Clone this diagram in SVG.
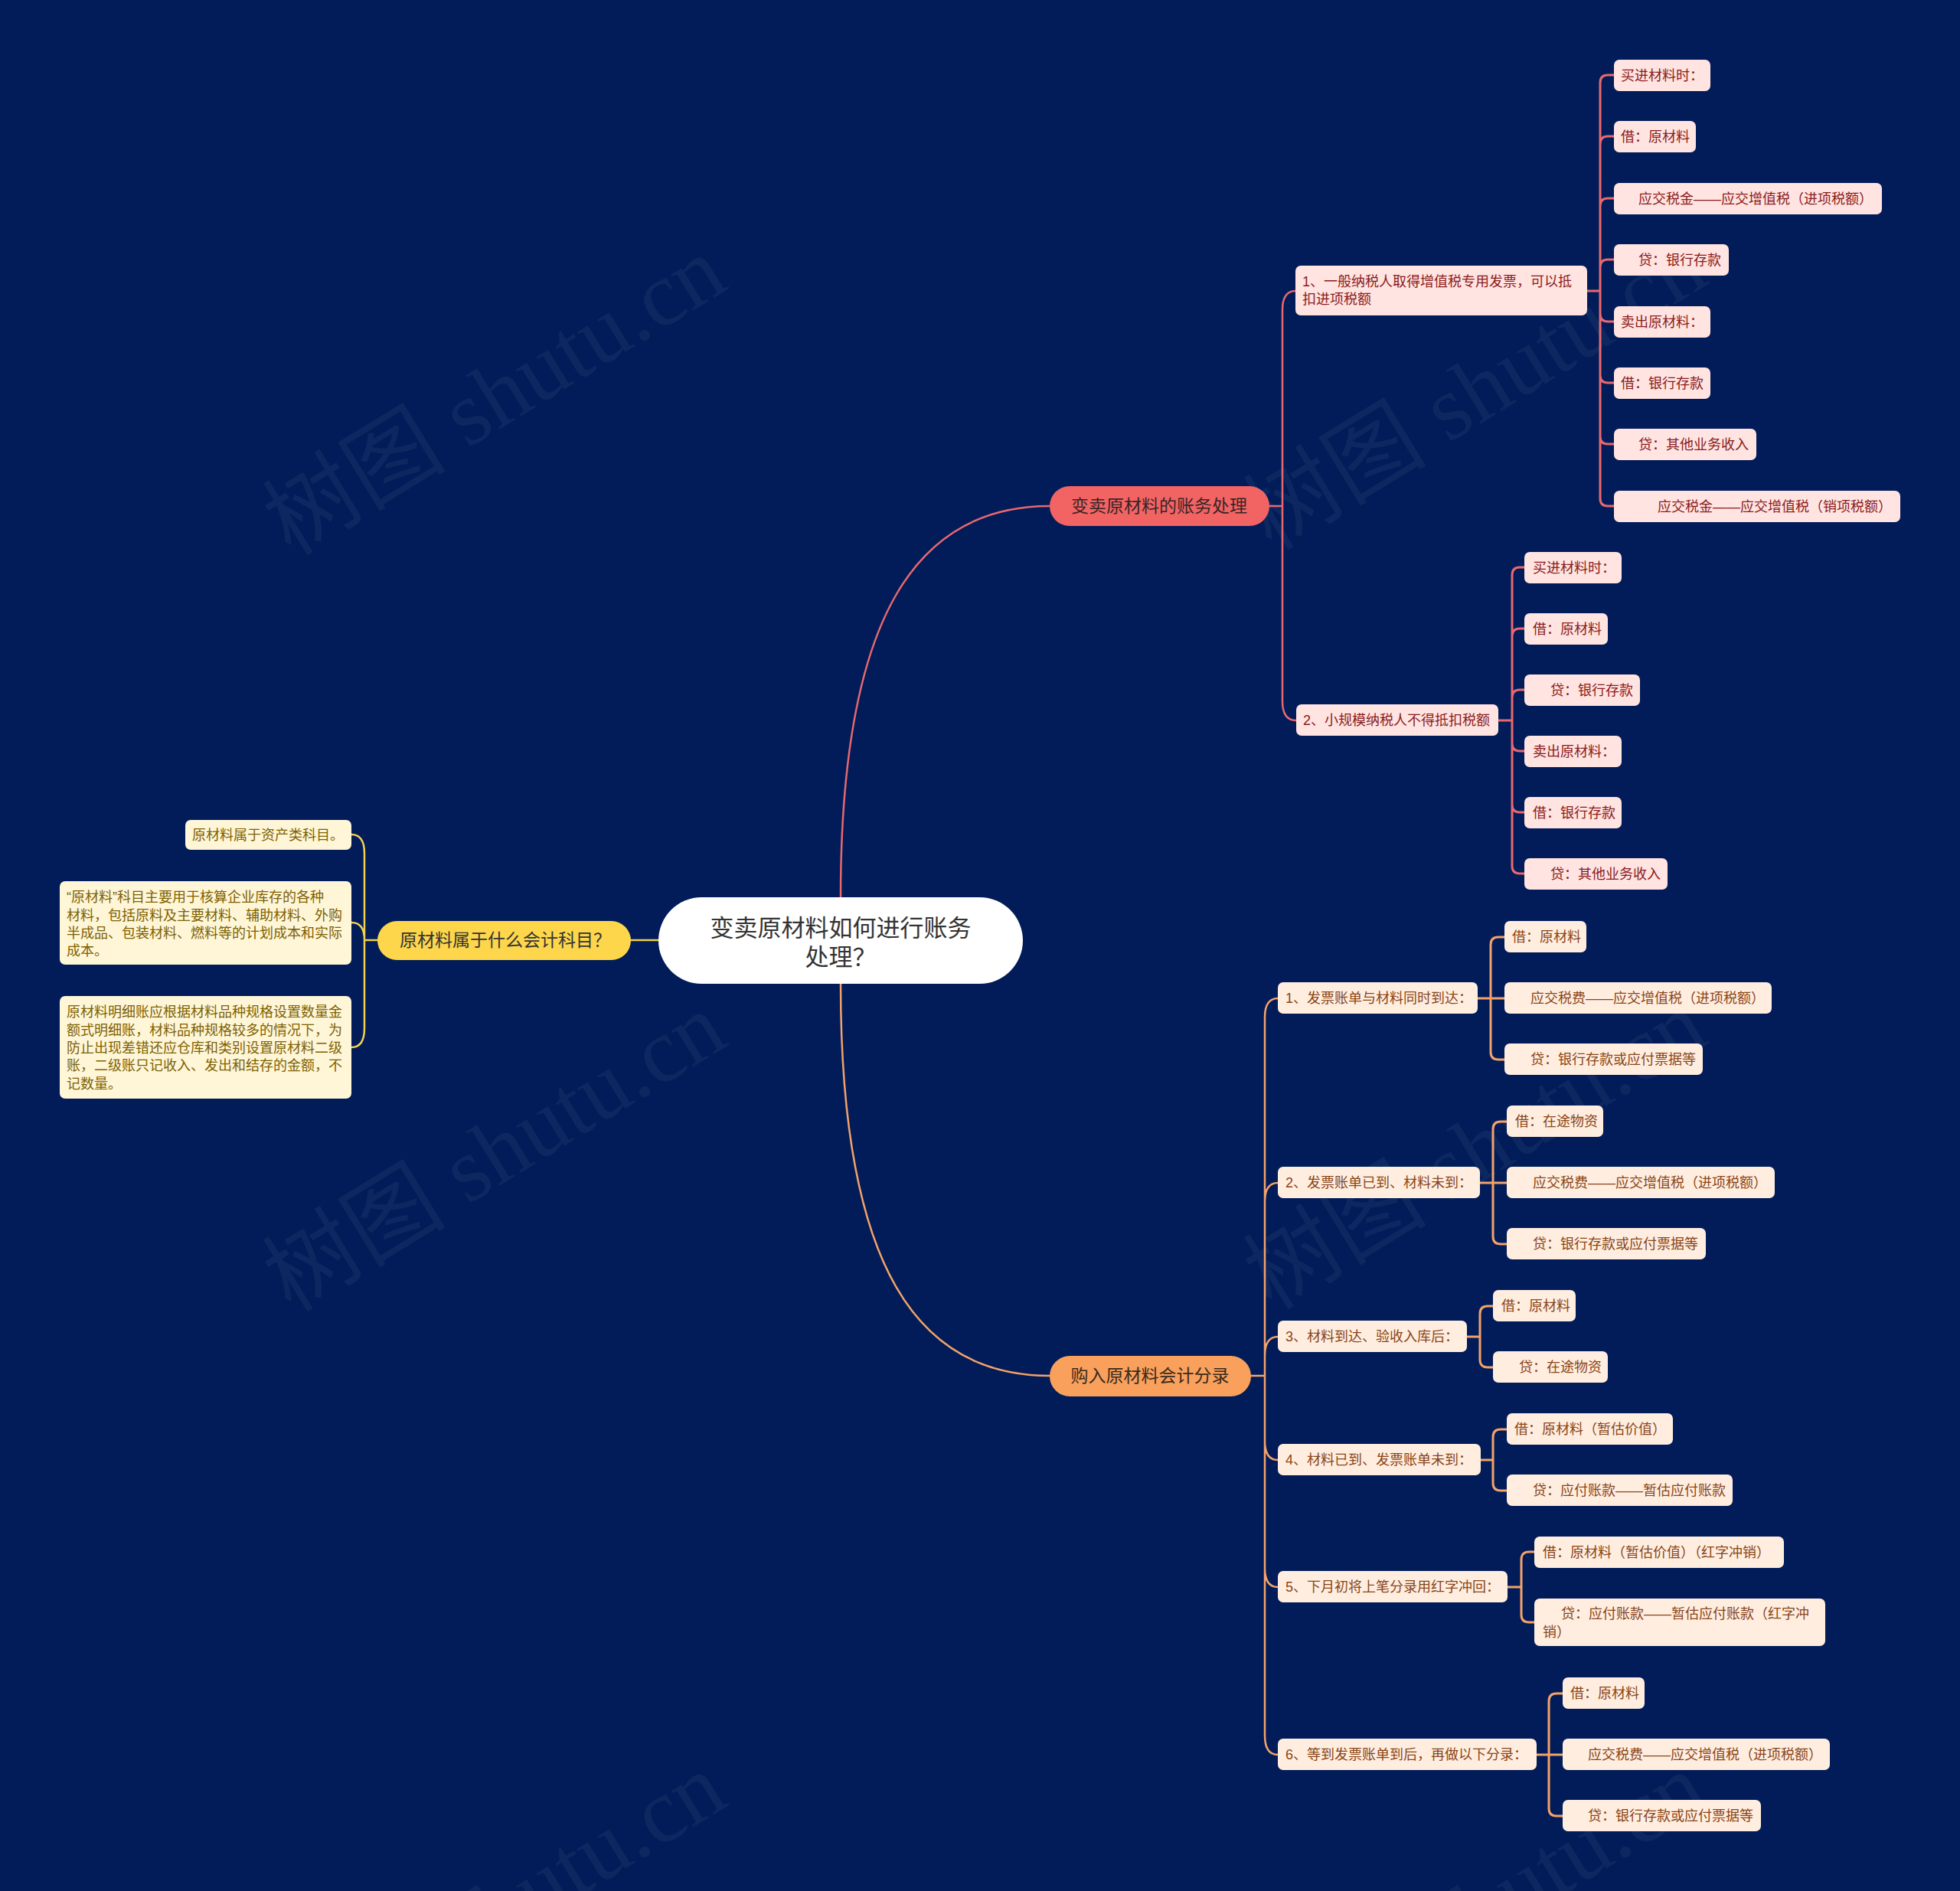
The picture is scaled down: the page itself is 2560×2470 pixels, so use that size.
<svg xmlns="http://www.w3.org/2000/svg" width="2560" height="2470" viewBox="0 0 2560 2470">
<style>
text{font-family:"Liberation Sans","Noto Sans CJK SC",sans-serif}
.wm{font-family:"Liberation Serif","Noto Sans CJK SC",serif;font-size:120px;fill:#ffffff;fill-opacity:0.05}
.c{fill:none;stroke-width:2.5;stroke-linecap:round}
.cr{stroke:#E8686F}
.co{stroke:#F4A26A}
.cy{stroke:#F3D04E}
.e{stroke-width:3}
.pl{fill:#FFE4E1}
.ptx{fill:#8B1A1A;font-size:18px}
.ol{fill:#FFEEE0}
.otx{fill:#8A4416;font-size:18px}
.yl{fill:#FFF6D8}
.ytx{fill:#7D6100;font-size:18px}
.mtx{font-size:23px;text-anchor:middle}
</style>
<rect width="2560" height="2470" fill="#011C58"/>
<g id="watermarks">
<text class="wm" transform="translate(646,517) rotate(-31.5)" text-anchor="middle" dominant-baseline="central">树图 shutu.cn</text>
<text class="wm" transform="translate(1927,510) rotate(-31.5)" text-anchor="middle" dominant-baseline="central">树图 shutu.cn</text>
<text class="wm" transform="translate(646,1505) rotate(-31.5)" text-anchor="middle" dominant-baseline="central">树图 shutu.cn</text>
<text class="wm" transform="translate(1927,1502) rotate(-31.5)" text-anchor="middle" dominant-baseline="central">树图 shutu.cn</text>
<text class="wm" transform="translate(646,2498) rotate(-31.5)" text-anchor="middle" dominant-baseline="central">树图 shutu.cn</text>
<text class="wm" transform="translate(1927,2498) rotate(-31.5)" text-anchor="middle" dominant-baseline="central">树图 shutu.cn</text>
</g>
<g id="connectors">
<path class="c cr" d="M1098 1172 C1098 800 1200 661 1371 661"/>
<path class="c co" d="M1098 1285 C1098 1658 1200 1797 1371 1797"/>
<path class="c cy" d="M860 1228 H824"/>
<path class="c cr" d="M1658 661 H1675 M1675 661 V405 Q1675 380 1692 380 M1675 661 V916 Q1675 941 1693 941"/>
<path class="c cr e" d="M2073 380 H2090 M2090 380 V108 Q2090 98 2100 98 H2108 M2090 380 V188 Q2090 178 2100 178 H2108 M2090 380 V269 Q2090 259 2100 259 H2108 M2090 380 V349 Q2090 339 2100 339 H2108 M2090 380 V410 Q2090 420 2100 420 H2108 M2090 380 V490 Q2090 500 2100 500 H2108 M2090 380 V570 Q2090 580 2100 580 H2108 M2090 380 V651 Q2090 661 2100 661 H2108"/>
<path class="c cr e" d="M1957 941 H1975 M1975 941 V751 Q1975 741 1985 741 H1991 M1975 941 V831 Q1975 821 1985 821 H1991 M1975 941 V911 Q1975 901 1985 901 H1991 M1975 941 V971 Q1975 981 1985 981 H1991 M1975 941 V1051 Q1975 1061 1985 1061 H1991 M1975 941 V1131 Q1975 1141 1985 1141 H1991"/>
<path class="c co" d="M1634 1797 H1652 M1652 1797 V1329 Q1652 1304 1669 1304 M1652 1797 V1570 Q1652 1545 1669 1545 M1652 1797 V1771 Q1652 1746 1669 1746 M1652 1797 V1882 Q1652 1907 1669 1907 M1652 1797 V2048 Q1652 2073 1669 2073 M1652 1797 V2267 Q1652 2292 1669 2292"/>
<path class="c co e" d="M1930 1304 H1947 M1947 1304 V1234 Q1947 1224 1957 1224 H1965 M1947 1304 H1965 M1947 1304 V1374 Q1947 1384 1957 1384 H1965"/>
<path class="c co e" d="M1933 1545 H1950 M1950 1545 V1475 Q1950 1465 1960 1465 H1968 M1950 1545 H1968 M1950 1545 V1615 Q1950 1625 1960 1625 H1968"/>
<path class="c co e" d="M1916 1746 H1933 M1933 1746 V1716 Q1933 1706 1943 1706 H1950 M1933 1746 V1776 Q1933 1786 1943 1786 H1950"/>
<path class="c co e" d="M1934 1907 H1950 M1950 1907 V1877 Q1950 1867 1960 1867 H1968 M1950 1907 V1937 Q1950 1947 1960 1947 H1968"/>
<path class="c co e" d="M1969 2073 H1987 M1987 2073 V2037 Q1987 2027 1997 2027 H2004 M1987 2073 V2109 Q1987 2119 1997 2119 H2004"/>
<path class="c co e" d="M2007 2292 H2023 M2023 2292 V2222 Q2023 2212 2033 2212 H2041 M2023 2292 H2041 M2023 2292 V2362 Q2023 2372 2033 2372 H2041"/>
<path class="c cy" d="M493 1228 H476 M476 1228 V1115 Q476 1090 459 1090 M476 1228 Q476 1205 459 1205 M476 1228 V1343 Q476 1368 459 1368"/>
</g>
<g id="root">
<rect x="860" y="1172" width="476" height="113" rx="56.5" fill="#FFFFFF"/>
<text x="1098" y="1223" font-size="31" fill="#333333" text-anchor="middle">变卖原材料如何进行账务</text>
<text x="1098" y="1261" font-size="31" fill="#333333" text-anchor="middle">处理？</text>
</g>
<g id="b1">
<rect x="1371" y="635" width="287" height="52" rx="26" fill="#F26464"/>
<text class="mtx" x="1514" y="669" fill="#3A2424">变卖原材料的账务处理</text>
</g>
<g id="b2">
<rect x="1371" y="1771" width="263" height="53" rx="26.5" fill="#F9A05C"/>
<text class="mtx" x="1502" y="1805" fill="#3A2A1C">购入原材料会计分录</text>
</g>
<g id="b3">
<rect x="493" y="1203" width="331" height="51" rx="25.5" fill="#FDD64C"/>
<text class="mtx" x="660" y="1236" fill="#333333">原材料属于什么会计科目？</text>
</g>
<g id="b1c1"><rect class="pl" x="1692" y="347" width="381" height="65" rx="7"/><text class="ptx" x="1701" y="374">1、一般纳税人取得增值税专用发票，可以抵</text><text class="ptx" x="1701" y="397">扣进项税额</text></g>
<g id="b1c2"><rect class="pl" x="1693" y="920" width="264" height="41" rx="7"/><text class="ptx" x="1702" y="947">2、小规模纳税人不得抵扣税额</text></g>
<g id="b1c1g1"><rect class="pl" x="2108" y="78" width="126" height="41" rx="7"/><text class="ptx" x="2117" y="105">买进材料时：</text></g>
<g id="b1c1g2"><rect class="pl" x="2108" y="158" width="107" height="41" rx="7"/><text class="ptx" x="2117" y="185">借：原材料</text></g>
<g id="b1c1g3"><rect class="pl" x="2108" y="239" width="350" height="41" rx="7"/><text class="ptx" x="2140" y="266">应交税金——应交增值税（进项税额）</text></g>
<g id="b1c1g4"><rect class="pl" x="2108" y="319" width="150" height="41" rx="7"/><text class="ptx" x="2140" y="346">贷：银行存款</text></g>
<g id="b1c1g5"><rect class="pl" x="2108" y="400" width="126" height="41" rx="7"/><text class="ptx" x="2117" y="427">卖出原材料：</text></g>
<g id="b1c1g6"><rect class="pl" x="2108" y="480" width="126" height="41" rx="7"/><text class="ptx" x="2117" y="507">借：银行存款</text></g>
<g id="b1c1g7"><rect class="pl" x="2108" y="560" width="186" height="41" rx="7"/><text class="ptx" x="2140" y="587">贷：其他业务收入</text></g>
<g id="b1c1g8"><rect class="pl" x="2108" y="641" width="374" height="41" rx="7"/><text class="ptx" x="2165" y="668">应交税金——应交增值税（销项税额）</text></g>
<g id="b1c2g1"><rect class="pl" x="1991" y="721" width="127" height="41" rx="7"/><text class="ptx" x="2002" y="748">买进材料时：</text></g>
<g id="b1c2g2"><rect class="pl" x="1991" y="801" width="109" height="41" rx="7"/><text class="ptx" x="2002" y="828">借：原材料</text></g>
<g id="b1c2g3"><rect class="pl" x="1991" y="881" width="151" height="41" rx="7"/><text class="ptx" x="2025" y="908">贷：银行存款</text></g>
<g id="b1c2g4"><rect class="pl" x="1991" y="961" width="127" height="41" rx="7"/><text class="ptx" x="2002" y="988">卖出原材料：</text></g>
<g id="b1c2g5"><rect class="pl" x="1991" y="1041" width="127" height="41" rx="7"/><text class="ptx" x="2002" y="1068">借：银行存款</text></g>
<g id="b1c2g6"><rect class="pl" x="1991" y="1121" width="187" height="41" rx="7"/><text class="ptx" x="2025" y="1148">贷：其他业务收入</text></g>
<g id="b2c1"><rect class="ol" x="1669" y="1283" width="261" height="41" rx="7"/><text class="otx" x="1679" y="1310">1、发票账单与材料同时到达：</text></g>
<g id="b2c2"><rect class="ol" x="1669" y="1524" width="264" height="41" rx="7"/><text class="otx" x="1679" y="1551">2、发票账单已到、材料未到：</text></g>
<g id="b2c3"><rect class="ol" x="1669" y="1725" width="247" height="41" rx="7"/><text class="otx" x="1679" y="1752">3、材料到达、验收入库后：</text></g>
<g id="b2c4"><rect class="ol" x="1669" y="1886" width="265" height="41" rx="7"/><text class="otx" x="1679" y="1913">4、材料已到、发票账单未到：</text></g>
<g id="b2c5"><rect class="ol" x="1669" y="2052" width="300" height="41" rx="7"/><text class="otx" x="1679" y="2079">5、下月初将上笔分录用红字冲回：</text></g>
<g id="b2c6"><rect class="ol" x="1669" y="2271" width="338" height="41" rx="7"/><text class="otx" x="1679" y="2298">6、等到发票账单到后，再做以下分录：</text></g>
<g id="b2c1g1"><rect class="ol" x="1965" y="1203" width="107" height="41" rx="7"/><text class="otx" x="1975" y="1230">借：原材料</text></g>
<g id="b2c1g2"><rect class="ol" x="1965" y="1283" width="349" height="41" rx="7"/><text class="otx" x="1999" y="1310">应交税费——应交增值税（进项税额）</text></g>
<g id="b2c1g3"><rect class="ol" x="1965" y="1363" width="259" height="41" rx="7"/><text class="otx" x="1999" y="1390">贷：银行存款或应付票据等</text></g>
<g id="b2c2g1"><rect class="ol" x="1968" y="1444" width="126" height="41" rx="7"/><text class="otx" x="1979" y="1471">借：在途物资</text></g>
<g id="b2c2g2"><rect class="ol" x="1968" y="1524" width="350" height="41" rx="7"/><text class="otx" x="2002" y="1551">应交税费——应交增值税（进项税额）</text></g>
<g id="b2c2g3"><rect class="ol" x="1968" y="1604" width="260" height="41" rx="7"/><text class="otx" x="2002" y="1631">贷：银行存款或应付票据等</text></g>
<g id="b2c3g1"><rect class="ol" x="1950" y="1685" width="108" height="41" rx="7"/><text class="otx" x="1961" y="1712">借：原材料</text></g>
<g id="b2c3g2"><rect class="ol" x="1950" y="1765" width="150" height="41" rx="7"/><text class="otx" x="1984" y="1792">贷：在途物资</text></g>
<g id="b2c4g1"><rect class="ol" x="1968" y="1846" width="217" height="41" rx="7"/><text class="otx" x="1978" y="1873">借：原材料（暂估价值）</text></g>
<g id="b2c4g2"><rect class="ol" x="1968" y="1926" width="295" height="41" rx="7"/><text class="otx" x="2002" y="1953">贷：应付账款——暂估应付账款</text></g>
<g id="b2c5g1"><rect class="ol" x="2004" y="2007" width="326" height="41" rx="7"/><text class="otx" x="2015" y="2034">借：原材料（暂估价值）（红字冲销）</text></g>
<g id="b2c5g2"><rect class="ol" x="2004" y="2088" width="380" height="62" rx="7"/><text class="otx" x="2039" y="2114">贷：应付账款——暂估应付账款（红字冲</text><text class="otx" x="2015" y="2138">销）</text></g>
<g id="b2c6g1"><rect class="ol" x="2041" y="2191" width="107" height="41" rx="7"/><text class="otx" x="2051" y="2218">借：原材料</text></g>
<g id="b2c6g2"><rect class="ol" x="2041" y="2271" width="349" height="41" rx="7"/><text class="otx" x="2074" y="2298">应交税费——应交增值税（进项税额）</text></g>
<g id="b2c6g3"><rect class="ol" x="2041" y="2351" width="259" height="41" rx="7"/><text class="otx" x="2074" y="2378">贷：银行存款或应付票据等</text></g>
<g id="b3c1"><rect class="yl" x="242" y="1071" width="217" height="39" rx="7"/><text class="ytx" x="251" y="1097">原材料属于资产类科目。</text></g>
<g id="b3c2"><rect class="yl" x="78" y="1151" width="381" height="109" rx="7"/><text class="ytx" x="87" y="1178">“原材料”科目主要用于核算企业库存的各种</text><text class="ytx" x="87" y="1201.5">材料，包括原料及主要材料、辅助材料、外购</text><text class="ytx" x="87" y="1225">半成品、包装材料、燃料等的计划成本和实际</text><text class="ytx" x="87" y="1248">成本。</text></g>
<g id="b3c3"><rect class="yl" x="78" y="1301" width="381" height="134" rx="7"/><text class="ytx" x="87" y="1328">原材料明细账应根据材料品种规格设置数量金</text><text class="ytx" x="87" y="1351.5">额式明细账，材料品种规格较多的情况下，为</text><text class="ytx" x="87" y="1375">防止出现差错还应仓库和类别设置原材料二级</text><text class="ytx" x="87" y="1398">账，二级账只记收入、发出和结存的金额，不</text><text class="ytx" x="87" y="1421.5">记数量。</text></g>
</svg>
